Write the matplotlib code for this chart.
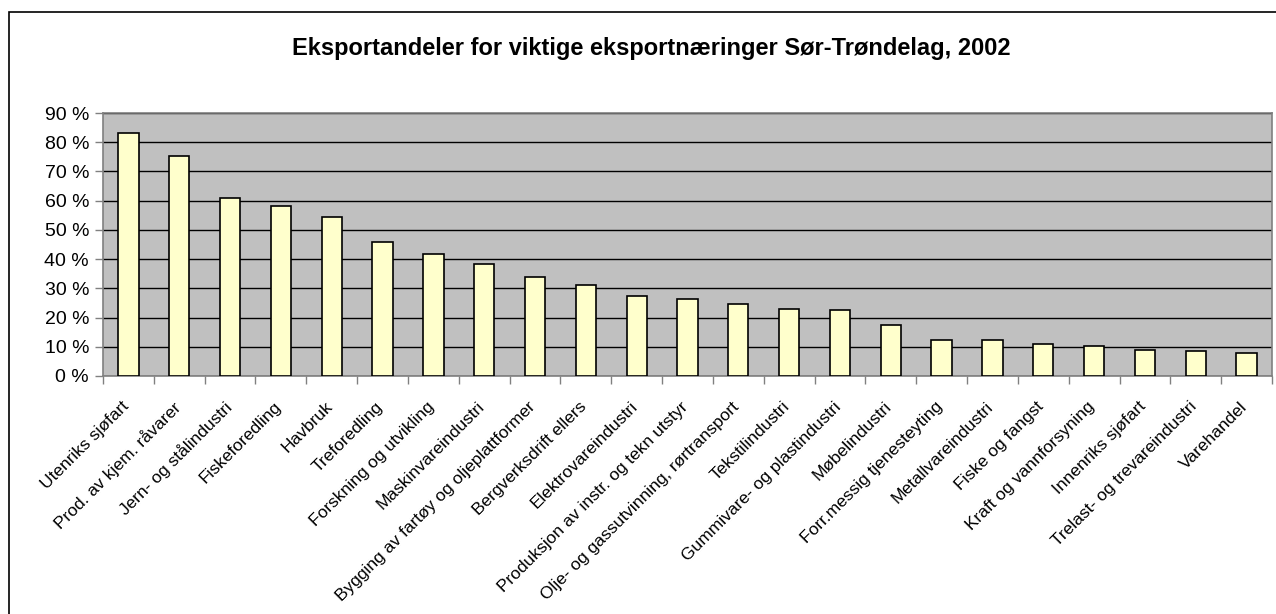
import matplotlib
matplotlib.use("Agg")
import matplotlib.pyplot as plt
from matplotlib.patches import Rectangle
from matplotlib.ticker import FixedLocator, FuncFormatter
import matplotlib.transforms as mtransforms
import numpy as np

categories = [
    "Utenriks sjøfart", "Prod. av kjem. råvarer", "Jern- og stålindustri",
    "Fiskeforedling", "Havbruk", "Treforedling", "Forskning og utvikling",
    "Maskinvareindustri", "Bygging av fartøy og oljeplattformer",
    "Bergverksdrift ellers", "Elektrovareindustri",
    "Produksjon av instr. og tekn utstyr", "Olje- og gassutvinning, rørtransport",
    "Tekstilindustri", "Gummivare- og plastindustri", "Møbelindustri",
    "Forr.messig tjenesteyting", "Metallvareindustri", "Fiske og fangst",
    "Kraft og vannforsyning", "Innenriks sjøfart", "Trelast- og trevareindustri",
    "Varehandel",
]
shares = [83.0, 75.4, 60.8, 58.2, 54.3, 45.7, 41.9, 38.2, 33.8, 31.1, 27.3,
          26.3, 24.6, 23.0, 22.6, 17.5, 12.3, 12.3, 11.0, 10.1, 9.0, 8.4, 7.9]
yticks = [0, 10, 20, 30, 40, 50, 60, 70, 80, 90]
title = "Eksportandeler for viktige eksportnæringer Sør-Trøndelag, 2002"

plt.rcParams['font.family'] = ['Liberation Sans', 'DejaVu Sans']

W, H = 1276, 614
fig = plt.figure(figsize=(W / 100, H / 100), dpi=100)

# outer chart border (only left and top visible)
fig.patches.append(Rectangle((8.5 / W, -0.05), 1.2, (H - 12) / H + 0.05,
                             transform=fig.transFigure, fill=False,
                             edgecolor='black', linewidth=1.2))

left, right, top, bottom = 103, 1272, 113, 376
ax = fig.add_axes([left / W, 1 - bottom / H, (right - left) / W, (bottom - top) / H])
ax.set_facecolor('#C0C0C0')

x = np.arange(len(categories))
ax.bar(x, shares, width=0.4, color='#FFFFCC', edgecolor='black', linewidth=1.2, zorder=3)

ax.set_xlim(-0.5, len(categories) - 0.5)
ax.set_ylim(0, 90)
ax.yaxis.set_major_locator(FixedLocator(yticks))
ax.yaxis.set_major_formatter(FuncFormatter(lambda v, p: f"{v:.0f} %"))
ax.grid(axis='y', color='black', linewidth=1.0, zorder=1)
ax.set_axisbelow(True)

for s in ax.spines.values():
    s.set_color('#808080')
    s.set_linewidth(1.2)

ax.tick_params(axis='y', direction='out', length=6, color='#808080', width=1,
               labelsize=14, pad=4)
# x ticks at category boundaries
ax.set_xticks(np.arange(-0.5, len(categories) + 0.5, 1.0))
ax.set_xticklabels([])
ax.tick_params(axis='x', direction='out', length=6, color='#808080', width=1)

offset = mtransforms.ScaledTranslation(-7 / 100, -23 / 100, fig.dpi_scale_trans)
for xi, lab in zip(x, categories):
    ax.text(xi, 0, lab, rotation=45, ha='right', va='top', rotation_mode='anchor',
            fontsize=12.5, transform=ax.get_xaxis_transform() + offset, clip_on=False)

fig.text(651 / W, 1 - 48 / H, title, ha='center', va='center', fontsize=17,
         fontweight='bold')

fig.savefig("out.png", dpi=100)
